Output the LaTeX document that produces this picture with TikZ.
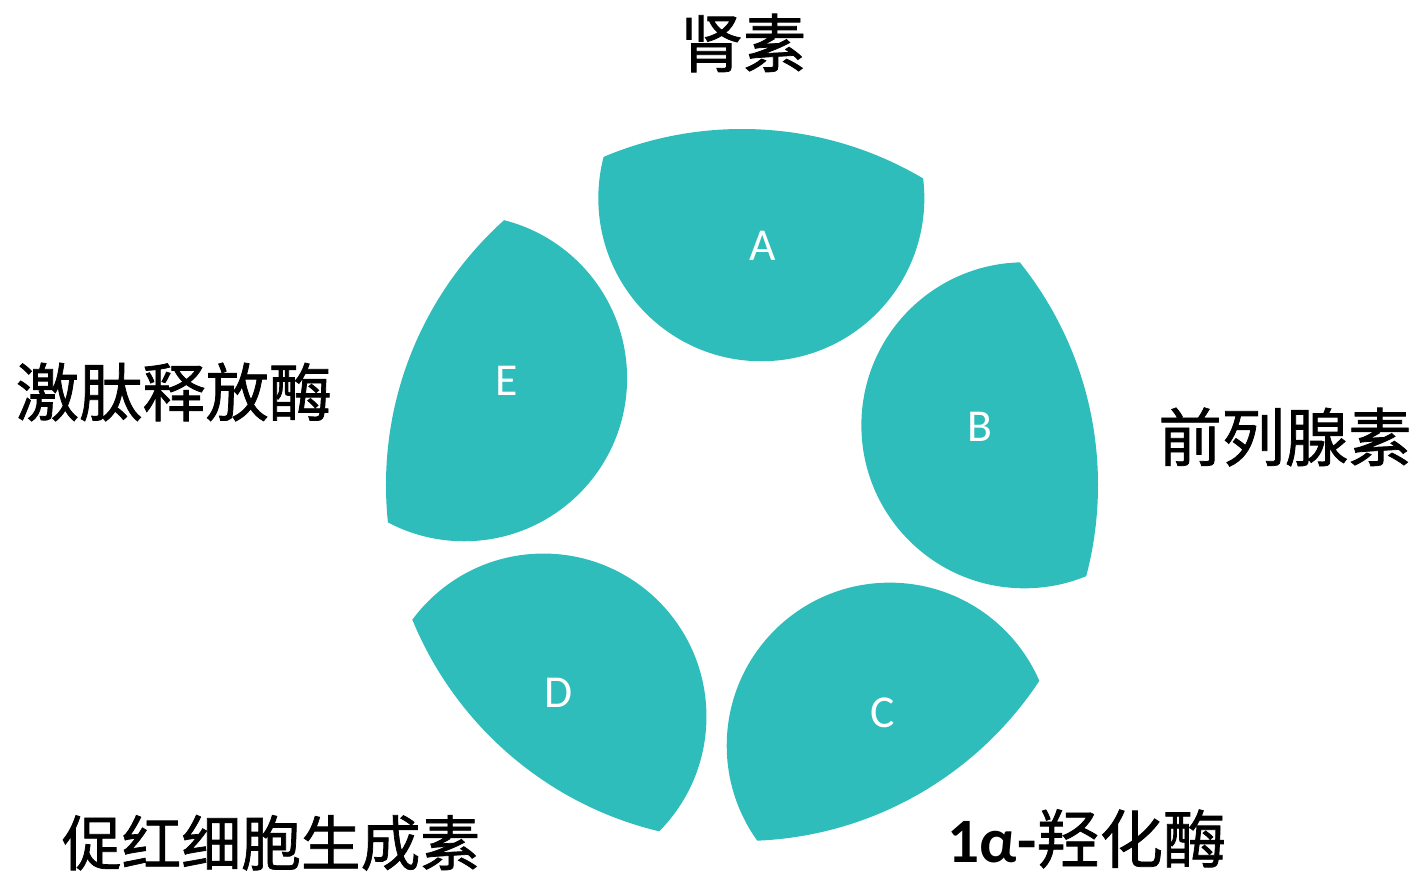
\documentclass[tikz,border=0pt]{standalone}
\usepackage{fontspec}
\setmainfont{Carlito}
\newfontfamily\cjk[FakeBold=1.2]{Noto Sans CJK SC}
\definecolor{petal}{RGB}{46,189,186}

\begin{document}
\begin{tikzpicture}[x=0.02cm,y=0.02cm]

        \tikzstyle{letter} = [text=white, font=\fontsize{26}{30}\selectfont, inner sep=0pt]
        \tikzstyle{term} = [font=\cjk\fontsize{36}{42}\selectfont, inner sep=0pt]

        \useasboundingbox (-736.6,-383.2) rectangle (679.4,492.8);

        \begin{scope}
            \clip (5.4,7.8) circle (356);
            \foreach \a in {85.2,13.2,-58.8,-130.8,157.2}
                \fill[petal] (\a:295.6) circle (163);
        \end{scope}

        \node[letter] (A) at (83.9:248.2) {A};
        \node[letter] (B) at (15.1:252) {B};
        \node[letter] (C) at (-56.4:264.4) {C};
        \node[letter] (D) at (228.4:267.6) {D};
        \node[letter] (E) at (154.0:255.4) {E};

        \node[term] (renin) at (6.4,449.8) {肾素};
        \node[term] (prost) at (548.4,55.8) {前列腺素};
        \node[term] (kalli) at (-562.6,100.8) {激肽释放酶};
        \node[term, font=\cjk\fontsize{34}{40}\selectfont] (epo) at (-465.6,-350) {促红细胞生成素};
        \node[term] (hydrox) at (350.4,-346) {{\rmfamily\bfseries 1α-}羟化酶};
    \end{tikzpicture}
\end{document}
